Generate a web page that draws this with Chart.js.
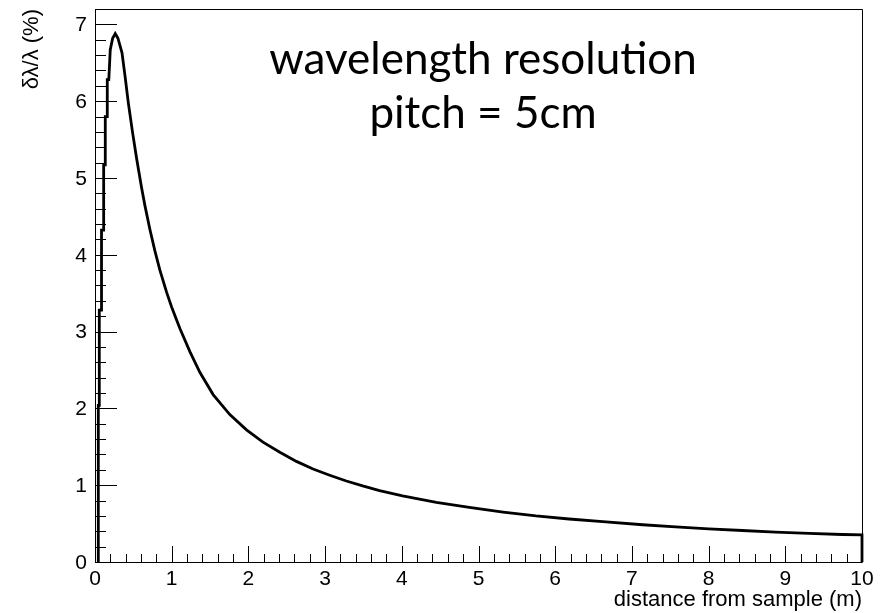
<!DOCTYPE html>
<html>
<head>
<meta charset="utf-8">
<script src="https://cdn.jsdelivr.net/npm/chart.js@4/dist/chart.umd.min.js"></script>
<style>
  html, body { margin: 0; padding: 0; background: #fff; }
  #wrap { width: 882px; height: 613px; position: relative; }
</style>
</head>
<body>
<div id="wrap"><canvas id="resolutionChart"></canvas></div>
<script>
// rising edge of the histogram (left bin edges in m, bin contents in %)
const riseEdges = [0.043, 0.056, 0.085, 0.113, 0.134, 0.160];
const riseValues = [2.04, 3.28, 4.32, 5.17, 5.80, 6.28];

// rest of the curve
const distance = [0.180, 0.199, 0.230, 0.264, 0.299, 0.352, 0.395, 0.434, 0.490, 0.543,
    0.608, 0.651, 0.716, 0.781, 0.846, 0.934, 0.999, 1.064, 1.107, 1.237,
    1.367, 1.540, 1.758, 1.975, 2.190, 2.410, 2.626, 2.843, 3.060, 3.277,
    3.490, 3.710, 4.010, 4.450, 4.880, 5.320, 5.750, 6.180, 6.620, 7.140,
    7.570, 8.000, 8.440, 8.870, 9.310, 9.740, 10.000];
const resolution = [6.28, 6.67, 6.82, 6.88, 6.82, 6.63, 6.30, 5.98, 5.59, 5.25,
    4.87, 4.64, 4.33, 4.05, 3.80, 3.51, 3.32, 3.15, 3.04, 2.74,
    2.47, 2.18, 1.92, 1.72, 1.56, 1.43, 1.31, 1.21, 1.13, 1.055,
    0.99, 0.93, 0.86, 0.776, 0.71, 0.65, 0.60, 0.56, 0.525, 0.485,
    0.456, 0.43, 0.41, 0.39, 0.372, 0.358, 0.352];

const xTicks = [0, 1, 2, 3, 4, 5, 6, 7, 8, 9, 10];
const yTicks = [0, 1, 2, 3, 4, 5, 6, 7];

const titleLines = ['wavelength resolution', 'pitch = 5cm'];
const xTitle = 'distance from sample (m)';
const yTitle = 'δλ/λ (%)';

// build histogram outline
const points = [{ x: riseEdges[0], y: 0 }];
let prev = 0;
riseEdges.forEach((e, i) => {
    points.push({ x: e, y: prev });
    points.push({ x: e, y: riseValues[i] });
    prev = riseValues[i];
});
distance.forEach((d, i) => points.push({ x: d, y: resolution[i] }));
points.push({ x: distance[distance.length - 1], y: 0 });

const labelFont = '21px "Liberation Sans", Arial, sans-serif';
const axisTitleFont = '22px "Liberation Sans", Arial, sans-serif';

// === ROOT style frame, ticks and texts ===
const rootFrame = {
    id: 'rootFrame',
    afterDraw(chart) {
        const { ctx, chartArea: a, scales: { x, y } } = chart;
        ctx.save();
        ctx.strokeStyle = '#000';
        ctx.lineWidth = 1;
        ctx.beginPath();
        ctx.rect(Math.round(a.left) + 0.5, Math.round(a.top) + 0.5,
                 Math.round(a.right - a.left), Math.round(a.bottom - a.top));
        ctx.stroke();

        // x ticks (inside, bottom)
        ctx.beginPath();
        for (let v = 0; v <= 10.001; v += 0.2) {
            const px = Math.round(x.getPixelForValue(v)) + 0.5;
            const major = Math.abs(v - Math.round(v)) < 1e-6;
            ctx.moveTo(px, a.bottom);
            ctx.lineTo(px, a.bottom - (major ? 16 : 8));
        }
        // y ticks (inside, left)
        for (let v = 0; v <= 7.201; v += 0.2) {
            const py = Math.round(y.getPixelForValue(v)) + 0.5;
            const major = Math.abs(v - Math.round(v)) < 1e-6;
            ctx.moveTo(a.left, py);
            ctx.lineTo(a.left + (major ? 22 : 11), py);
        }
        ctx.stroke();

        ctx.fillStyle = '#000';
        ctx.font = labelFont;
        ctx.textAlign = 'center';
        ctx.textBaseline = 'alphabetic';
        xTicks.forEach(v => ctx.fillText(String(v), x.getPixelForValue(v), 585));
        ctx.textAlign = 'right';
        ctx.textBaseline = 'middle';
        yTicks.forEach(v => ctx.fillText(String(v), 87, y.getPixelForValue(v) + 1));

        // axis titles
        ctx.font = axisTitleFont;
        ctx.textAlign = 'right';
        ctx.textBaseline = 'alphabetic';
        ctx.fillText(xTitle, a.right, 606);
        ctx.save();
        ctx.translate(38, a.top);
        ctx.rotate(-Math.PI / 2);
        ctx.textAlign = 'right';
        ctx.fillText(yTitle, 0, 0);
        ctx.restore();

        // title
        ctx.font = '44px Lato, "Open Sans", sans-serif';
        ctx.textAlign = 'center';
        ctx.fillText(titleLines[0], 483, 74);
        ctx.fillText(titleLines[1], 483, 128);
        ctx.restore();
    }
};

new Chart(document.getElementById('resolutionChart').getContext('2d'), {
    type: 'line',
    data: {
        datasets: [{
            data: points,
            borderColor: '#000',
            borderWidth: 2.8,
            pointRadius: 0,
            tension: 0,
            fill: false,
            clip: false
        }]
    },
    options: {
        responsive: true,
        maintainAspectRatio: false,
        animation: false,
        layout: { padding: { left: 95, top: 9, right: 20, bottom: 51 } },
        scales: {
            x: { type: 'linear', min: 0, max: 10, display: false },
            y: { type: 'linear', min: 0, max: 7.2, display: false }
        },
        plugins: {
            legend: { display: false },
            tooltip: { enabled: false }
        }
    },
    plugins: [rootFrame]
});
</script>
</body>
</html>
